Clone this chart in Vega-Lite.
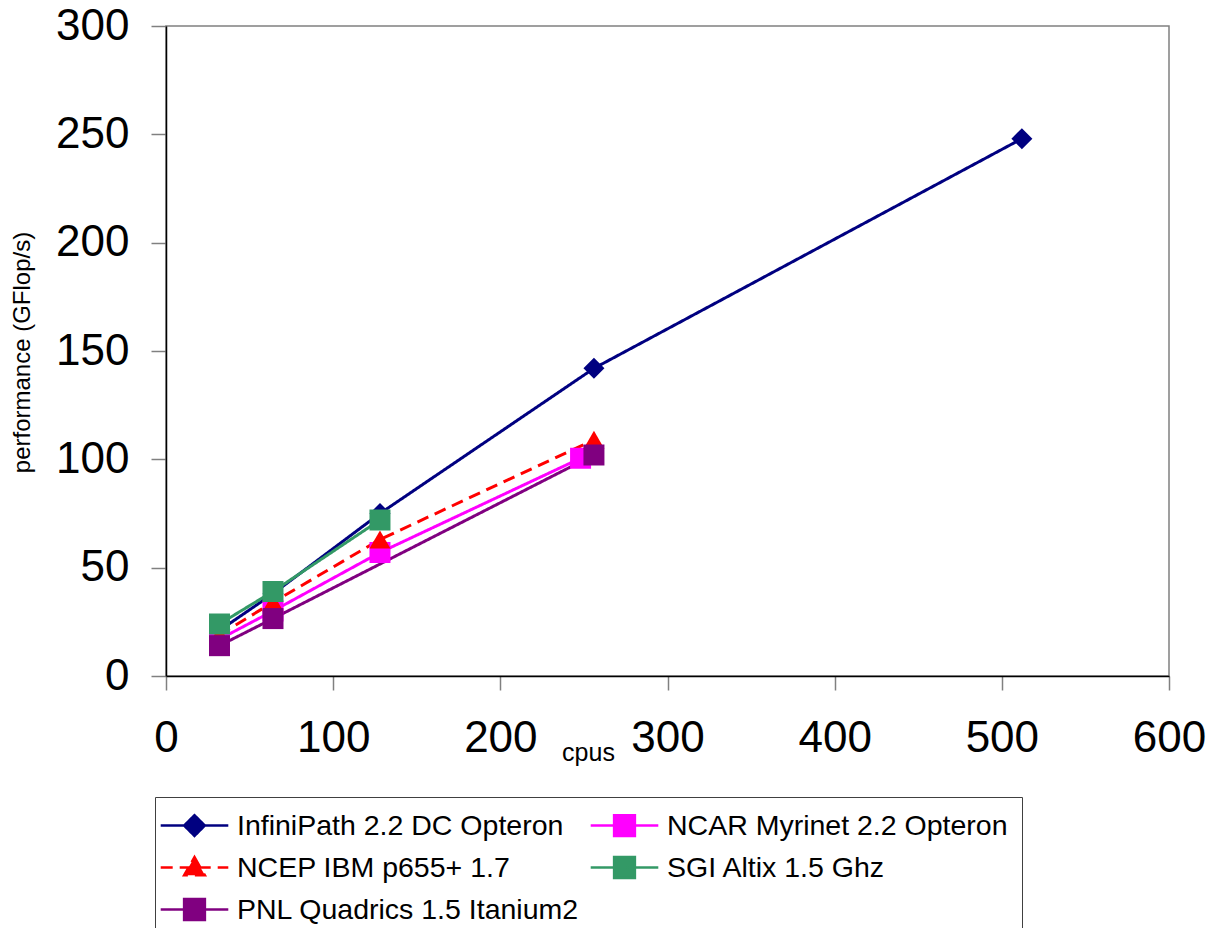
{
  "$schema": "https://vega.github.io/schema/vega-lite/v6.json",
  "width": 1003,
  "height": 650,
  "autosize": "none",
  "padding": {"left": 166, "top": 26, "right": 42, "bottom": 252},
  "background": "white",
  "config": {
    "font": "Liberation Sans",
    "view": {"stroke": "#808080", "strokeWidth": 1.5},
    "axis": {"grid": false, "labelFont": "Liberation Sans", "titleFont": "Liberation Sans", "labelColor": "black", "titleColor": "black", "domainColor": "black", "domainWidth": 1.5, "tickColor": "#808080", "tickWidth": 1.5, "labelFlush": false, "labelOverlap": false, "titleFontWeight": "normal"}
  },
  "data": {
    "values": [
      {"series": "InfiniPath 2.2 DC Opteron", "cpus": 32, "gflops": 21},
      {"series": "InfiniPath 2.2 DC Opteron", "cpus": 64, "gflops": 38},
      {"series": "InfiniPath 2.2 DC Opteron", "cpus": 128, "gflops": 75},
      {"series": "InfiniPath 2.2 DC Opteron", "cpus": 256, "gflops": 142},
      {"series": "InfiniPath 2.2 DC Opteron", "cpus": 512, "gflops": 248},
      {"series": "NCAR Myrinet 2.2 Opteron", "cpus": 32, "gflops": 17},
      {"series": "NCAR Myrinet 2.2 Opteron", "cpus": 64, "gflops": 30},
      {"series": "NCAR Myrinet 2.2 Opteron", "cpus": 128, "gflops": 57},
      {"series": "NCAR Myrinet 2.2 Opteron", "cpus": 248, "gflops": 100.5},
      {"series": "NCEP IBM p655+ 1.7", "cpus": 32, "gflops": 19},
      {"series": "NCEP IBM p655+ 1.7", "cpus": 64, "gflops": 34},
      {"series": "NCEP IBM p655+ 1.7", "cpus": 128, "gflops": 63},
      {"series": "NCEP IBM p655+ 1.7", "cpus": 256, "gflops": 109},
      {"series": "SGI Altix 1.5 Ghz", "cpus": 32, "gflops": 24},
      {"series": "SGI Altix 1.5 Ghz", "cpus": 64, "gflops": 39},
      {"series": "SGI Altix 1.5 Ghz", "cpus": 128, "gflops": 72},
      {"series": "PNL Quadrics 1.5 Itanium2", "cpus": 32, "gflops": 14},
      {"series": "PNL Quadrics 1.5 Itanium2", "cpus": 64, "gflops": 26.5},
      {"series": "PNL Quadrics 1.5 Itanium2", "cpus": 256, "gflops": 102}
    ]
  },
  "encoding": {
    "x": {
      "field": "cpus", "type": "quantitative",
      "scale": {"domain": [0, 600], "nice": false, "zero": false},
      "axis": {"values": [0, 100, 200, 300, 400, 500, 600], "labelFontSize": 44, "tickSize": 14, "labelPadding": 26,
        "title": "cpus", "titleFontSize": 25, "titleX": 422, "titleY": 76, "titleBaseline": "middle", "titleAlign": "center", "titleAnchor": null}
    },
    "y": {
      "field": "gflops", "type": "quantitative",
      "scale": {"domain": [0, 300], "nice": false},
      "axis": {"values": [0, 50, 100, 150, 200, 250, 300], "labelFontSize": 44, "tickSize": 15, "labelPadding": 22, "labelBaseline": "middle",
        "title": "performance (GFlop/s)", "titleFontSize": 24, "titleX": -144, "titleY": 326, "titleBaseline": "middle", "titleAlign": "center", "titleAngle": -90}
    },
    "color": {
      "field": "series", "type": "nominal",
      "scale": {
        "domain": ["InfiniPath 2.2 DC Opteron", "NCAR Myrinet 2.2 Opteron", "NCEP IBM p655+ 1.7", "SGI Altix 1.5 Ghz", "PNL Quadrics 1.5 Itanium2"],
        "range": ["#000080", "#FF00FF", "#FF0000", "#339966", "#800080"]
      },
      "legend": {
        "title": null, "orient": "none", "legendX": -11, "legendY": 771, "columns": 2, "direction": "horizontal",
        "labelFontSize": 28.5, "labelFont": "Liberation Sans", "labelColor": "black", "labelLimit": 500,
        "symbolSize": 676, "symbolStrokeWidth": 2.5, "symbolOffset": 11, "labelOffset": 28,
        "rowPadding": 11, "columnPadding": 5, "padding": 14,
        "strokeColor": "#404040", "fillColor": "white",
        "encode": {
          "symbols": {
            "update": {
              "shape": {"signal": "datum.value === 'InfiniPath 2.2 DC Opteron' ? 'M-2.6,0H2.6M-0.8,0L0,-0.8L0.8,0L0,0.8Z' : datum.value === 'NCEP IBM p655+ 1.7' ? 'M-2.6,0H2.6M0,-0.8L0.8,0.6L-0.8,0.6Z' : 'M-2.6,0H2.6M-0.8,-0.8H0.8V0.8H-0.8Z'"},
              "stroke": {"signal": "scale('color', datum.value)"},
              "fill": {"signal": "scale('color', datum.value)"},
              "strokeWidth": {"value": 2.5},
              "strokeDash": {"signal": "datum.value === 'NCEP IBM p655+ 1.7' ? [12, 7] : [1, 0]"},
              "opacity": {"value": 1}
            }
          }
        }
      }
    }
  },
  "layer": [
    {
      "mark": {"type": "line", "strokeWidth": 3},
      "encoding": {
        "strokeDash": {
          "field": "series", "type": "nominal",
          "scale": {
            "domain": ["InfiniPath 2.2 DC Opteron", "NCAR Myrinet 2.2 Opteron", "NCEP IBM p655+ 1.7", "SGI Altix 1.5 Ghz", "PNL Quadrics 1.5 Itanium2"],
            "range": [[1, 0], [1, 0], [12, 7], [1, 0], [1, 0]]
          },
          "legend": null
        }
      }
    },
    {
      "transform": [{"filter": {"field": "series", "oneOf": ["InfiniPath 2.2 DC Opteron"]}}],
      "mark": {"type": "point", "filled": true, "opacity": 1, "size": 441, "shape": "diamond"}
    },
    {
      "transform": [{"filter": {"field": "series", "oneOf": ["NCAR Myrinet 2.2 Opteron"]}}],
      "mark": {"type": "point", "filled": true, "opacity": 1, "size": 441, "shape": "square"}
    },
    {
      "transform": [{"filter": {"field": "series", "oneOf": ["NCEP IBM p655+ 1.7"]}}],
      "mark": {"type": "point", "filled": true, "opacity": 1, "size": 441, "shape": "triangle-up"}
    },
    {
      "transform": [{"filter": {"field": "series", "oneOf": ["SGI Altix 1.5 Ghz", "PNL Quadrics 1.5 Itanium2"]}}],
      "mark": {"type": "point", "filled": true, "opacity": 1, "size": 441, "shape": "square"}
    }
  ]
}
